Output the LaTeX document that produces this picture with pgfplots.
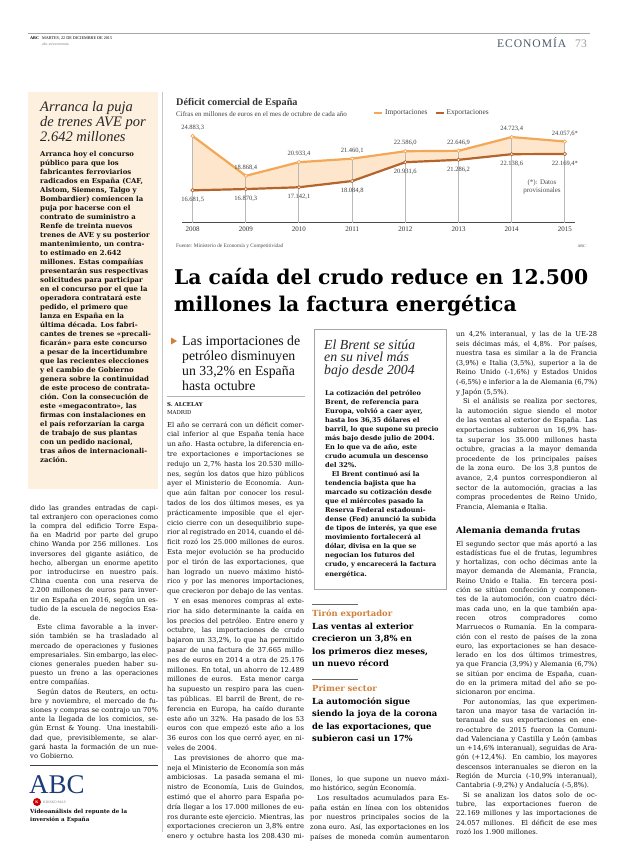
\documentclass[border=0pt]{standalone}
\usepackage{fontspec}
\setmainfont{Liberation Serif}
\newfontfamily\dv{DejaVu Serif}
\newfontfamily\lib{Liberation Serif}
\newfontfamily\econ[LetterSpace=8]{Liberation Serif}
\usepackage{pgfplots}
\usepackage{pgfplotstable}
\pgfplotsset{compat=1.18}

\definecolor{imp}{HTML}{F3A858}
\definecolor{expc}{HTML}{B5642C}
\definecolor{peach}{HTML}{FDE6CC}
\definecolor{beige}{HTML}{FDF0DE}
\definecolor{econc}{HTML}{4B5A6C}
\definecolor{orng}{HTML}{D0803A}
\definecolor{navy}{HTML}{1C3C78}
\definecolor{txt}{HTML}{121212}

\newlength\colw
\newcommand\J[1]{\hbox to\colw{#1}}
\newcommand\R[1]{\hbox{#1}}
\newcommand\ind{\kern1em}
\hbadness=10000 \hfuzz=20pt

% Deficit comercial, octubre de cada ano (millones de euros)
\pgfplotstableread{
year imp expo implab explab
2008 24883.3 16681.5 24.883,3 16.681,5
2009 18868.4 16870.3 18.868,4 16.870,3
2010 20933.4 17142.1 20.933,4 17.142,1
2011 21460.1 18084.8 21.460,1 18.084,8
2012 22586.0 20931.6 22.586,0 20.931,6
2013 22646.9 21286.2 22.646,9 21.286,2
2014 24723.4 22138.6 24.723,4 22.138,6
2015 24057.6 22169.4 24.057,6* 22.169,4*
}\deficit

\begin{document}
\begin{tikzpicture}[x=1pt,y=1pt]
\fill[white] (0,0) rectangle (620,-846);
\path[use as bounding box] (0,0) rectangle (620,-846);

% header
\draw[gray!70, line width=0.8pt] (28,-33) -- (590,-33);
\node[anchor=base west, inner sep=0, font=\lib\bfseries\fontsize{4.2}{5}\selectfont] at (30,-39.5) {ABC};
\node[anchor=base west, inner sep=0, font=\lib\fontsize{4.2}{5}\selectfont] at (42,-39.5) {MARTES, 22 DE DICIEMBRE DE 2015};
\node[anchor=base west, inner sep=0, font=\lib\fontsize{4}{5}\selectfont, text=gray] at (42,-45) {abc.es/economia};
\node[anchor=base west, inner sep=0, font=\econ\fontsize{11.6}{12}\selectfont, text=econc] at (497,-47.7) {ECONOMÍA};
\node[anchor=base west, inner sep=0, font=\lib\fontsize{11.6}{12}\selectfont, text=gray!75] at (575,-47.7) {73};

% column rule
\draw[gray!45, line width=0.5pt] (162,-92) -- (162,-832);

% sidebar
\fill[beige] (28,-92) rectangle (158,-489);
\node[anchor=base west, inner sep=0, text=black!85, font=\lib\itshape\fontsize{14.5}{15}\selectfont] at (40,-111) {\parbox[t]{118pt}{\R{Arranca la puja}\R{de trenes AVE por}\R{2.642 millones}}};
\node[anchor=base west, inner sep=0, text=txt, font=\dv\bfseries\fontsize{6.9}{9}\selectfont] at (40,-156) {\parbox[t]{118pt}{%
\R{Arranca hoy el concurso}\R{público para que los}\R{fabricantes ferroviarios}\R{radicados en España (CAF,}\R{Alstom, Siemens, Talgo y}\R{Bombardier) comiencen la}\R{puja por hacerse con el}\R{contrato de suministro a}\R{Renfe de treinta nuevos}\R{trenes de AVE y su posterior}\R{mantenimiento, un contra-}\R{to estimado en 2.642}\R{millones. Estas compañías}\R{presentarán sus respectivas}\R{solicitudes para participar}\R{en el concurso por el que la}\R{operadora contratará este}\R{pedido, el primero que}\R{lanza en España en la}\R{última década. Los fabri-}\R{cantes de trenes se «precali-}\R{ficarán» para este concurso}\R{a pesar de la incertidumbre}\R{que las recientes elecciones}\R{y el cambio de Gobierno}\R{genera sobre la continuidad}\R{de este proceso de contrata-}\R{ción. Con la consecución de}\R{este «megacontrato», las}\R{firmas con instalaciones en}\R{el país reforzarían la carga}\R{de trabajo de sus plantas}\R{con un pedido nacional,}\R{tras años de internacionali-}\R{zación.}}};

% column 1, bottom
\node[anchor=base west, inner sep=0, text=txt, font=\dv\fontsize{6.8}{9.2}\selectfont] at (30,-510) {\parbox[t]{128pt}{\setlength\colw{128pt}%
\J{dido las grandes entradas de capi-}\J{tal extranjero con operaciones como}\J{la compra del edificio Torre Espa-}\J{ña en Madrid por parte del grupo}\J{chino Wanda por 256 millones. Los}\J{inversores del gigante asiático, de}\J{hecho, albergan un enorme apetito}\J{por introducirse en nuestro país.}\J{China cuenta con una reserva de}\J{2.200 millones de euros para inver-}\J{tir en España en 2016, según un es-}\J{tudio de la escuela de negocios Esa-}\R{de.}%
\J{\ind Este clima favorable a la inver-}\J{sión también se ha trasladado al}\J{mercado de operaciones y fusiones}\J{empresariales. Sin embargo, las elec-}\J{ciones generales pueden haber su-}\J{puesto un freno a las operaciones}\R{entre compañías.}%
\J{\ind Según datos de Reuters, en octu-}\J{bre y noviembre, el mercado de fu-}\J{siones y compras se contrajo un 70\%}\J{ante la llegada de los comicios, se-}\J{gún Ernst \& Young. Una inestabili-}\J{dad que, previsiblemente, se alar-}\J{gará hasta la formación de un nue-}\R{vo Gobierno.}}};
\draw[black!75, line width=0.8pt] (30,-765) -- (158,-765);
\node[anchor=base west, inner sep=0, text=navy, font=\lib\fontsize{27}{27}\selectfont] at (29,-793) {ABC};
\fill[red!80!black] (37,-802) circle (4);
\node[inner sep=0, text=white, font=\lib\bfseries\fontsize{4}{4}\selectfont] at (37,-802) {K};
\node[anchor=west, inner sep=0, text=gray, font=\lib\fontsize{3.6}{4}\selectfont] at (43,-802) {KIOSKO·MAS};
\node[anchor=base west, inner sep=0, text=txt, font=\dv\bfseries\fontsize{5.6}{8}\selectfont] at (30,-813) {\parbox[t]{128pt}{\R{Videoanálisis del repunte de la}\R{inversión a España}}};

% chart
\node[anchor=base west, inner sep=0, text=black!80, font=\lib\bfseries\fontsize{10.2}{11}\selectfont] at (176,-105) {Déficit comercial de España};
\node[anchor=base west, inner sep=0, text=black!75, font=\lib\fontsize{7}{8}\selectfont] at (176,-116) {Cifras en millones de euros en el mes de octubre de cada año};
\begin{scope}[x=1cm,y=1cm]
\begin{axis}[
  at={(182pt,-222.7pt)}, anchor=south west,
  scale only axis, width=393pt, height=99.7pt,
  xmin=2007.8, xmax=2015.19, ymin=11786, ymax=26850,
  axis x line*=bottom, axis y line=none,
  axis line style={draw=black!70, line width=0.8pt},
  xtick={2008,2009,2010,2011,2012,2013,2014,2015},
  xticklabels={2008,2009,2010,2011,2012,2013,2014,2015},
  xtick style={draw=none},
  xticklabel style={font=\lib\fontsize{7}{8}\selectfont, text=black!80, yshift=-1pt},
  ytick=\empty,
  legend columns=2,
  legend style={at={(rel axis cs:0.486,1.1)}, anchor=west, draw=none, fill=none, inner sep=0pt,
    font=\lib\fontsize{7.4}{8}\selectfont, text=black!75,
    /tikz/every even column/.append style={column sep=5pt}},
  legend image code/.code={\draw[#1, mark=none, line width=2pt] (0pt,0pt) -- (8pt,0pt);},
]
\addplot[fill=peach, draw=none, forget plot] coordinates {
  (2008,24883.3) (2009,18868.4) (2010,20933.4) (2011,21460.1) (2012,22586.0) (2013,22646.9) (2014,24723.4) (2015,24057.6)
  (2015,22169.4) (2014,22138.6) (2013,21286.2) (2012,20931.6) (2011,18084.8) (2010,17142.1) (2009,16870.3) (2008,16681.5)} --cycle;
\addplot[ycomb, draw=gray!55, line width=1pt, mark=none, forget plot] table[x=year, y=imp] {\deficit};
\addplot[color=imp, line width=2.2pt, mark=*, mark size=1.7pt,
  mark options={fill=white, draw=imp, line width=0.7pt},
  nodes near coords, point meta=explicit symbolic,
  every node near coord/.append style={font=\lib\fontsize{6.5}{7}\selectfont, text=black!75, anchor=center, yshift=8pt}]
  table[x=year, y=imp, meta=implab] {\deficit};
\addplot[color=expc, line width=2.2pt, mark=*, mark size=1.7pt,
  mark options={fill=white, draw=expc, line width=0.7pt},
  nodes near coords, point meta=explicit symbolic,
  every node near coord/.append style={font=\lib\fontsize{6.5}{7}\selectfont, text=black!75, anchor=center, yshift=-10pt}]
  table[x=year, y=expo, meta=explab] {\deficit};
\legend{Importaciones, Exportaciones}
\end{axis}
\end{scope}
\node[inner sep=0, text=black!70, font=\lib\fontsize{7}{8}\selectfont, align=center] at (542,-187) {(*): Datos\\provisionales};
\node[anchor=base west, inner sep=0, text=black!70, font=\lib\fontsize{5.3}{6}\selectfont] at (176,-247) {Fuente: Ministerio de Economía y Competitividad};
\node[anchor=base east, inner sep=0, text=black!70, font=\lib\fontsize{4}{5}\selectfont] at (586,-247) {ABC};

% headline
\node[anchor=base west, inner sep=0, text=black, font=\dv\bfseries\fontsize{20.3}{27}\selectfont] at (174,-284.3) {La caída del crudo reduce en 12.500};
\node[anchor=base west, inner sep=0, text=black, font=\dv\bfseries\fontsize{20.3}{27}\selectfont] at (174,-311.7) {millones la factura energética};

% column 2
\fill[orng] (171,-337.5) -- (171,-344.5) -- (177,-341) -- cycle;
\node[anchor=base west, inner sep=0, text=black!92, font=\lib\fontsize{13.8}{15}\selectfont] at (182,-345) {\parbox[t]{125pt}{\R{Las importaciones de}\R{petróleo disminuyen}\R{un 33,2\% en España}\R{hasta octubre}}};
\draw[gray!60, line width=0.5pt] (167,-396) -- (305,-396);
\node[anchor=base west, inner sep=0, text=txt, font=\dv\bfseries\fontsize{5.4}{8}\selectfont] at (167,-406) {\parbox[t]{120pt}{\R{S. ALCELAY}\R{\mdseries MADRID}}};
\node[anchor=base west, inner sep=0, text=txt, font=\dv\fontsize{6.8}{9.8}\selectfont] at (167,-427) {\parbox[t]{137pt}{\setlength\colw{137pt}%
\J{El año se cerrará con un déficit comer-}\J{cial inferior al que España tenía hace}\J{un año. Hasta octubre, la diferencia en-}\J{tre exportaciones e importaciones se}\J{redujo un 2,7\% hasta los 20.530 millo-}\J{nes, según los datos que hizo públicos}\J{ayer el Ministerio de Economía. Aun-}\J{que aún faltan por conocer los resul-}\J{tados de los dos últimos meses, es ya}\J{prácticamente imposible que el ejer-}\J{cicio cierre con un desequilibrio supe-}\J{rior al registrado en 2014, cuando el dé-}\J{ficit rozó los 25.000 millones de euros.}\J{Esta mejor evolución se ha producido}\J{por el tirón de las exportaciones, que}\J{han logrado un nuevo máximo histó-}\J{rico y por las menores importaciones,}\R{que crecieron por debajo de las ventas.}%
\J{\ind Y en esas menores compras al exte-}\J{rior ha sido determinante la caída en}\J{los precios del petróleo. Entre enero y}\J{octubre, las importaciones de crudo}\J{bajaron un 33,2\%, lo que ha permitido}\J{pasar de una factura de 37.665 millo-}\J{nes de euros en 2014 a otra de 25.176}\J{millones. En total, un ahorro de 12.489}\J{millones de euros. Esta menor carga}\J{ha supuesto un respiro para las cuen-}\J{tas públicas. El barril de Brent, de re-}\J{ferencia en Europa, ha caído durante}\J{este año un 32\%. Ha pasado de los 53}\J{euros con que empezó este año a los}\J{36 euros con los que cerró ayer, en ni-}\R{veles de 2004.}%
\J{\ind Las previsiones de ahorro que ma-}\J{neja el Ministerio de Economía son más}\J{ambiciosas. La pasada semana el mi-}\J{nistro de Economía, Luis de Guindos,}\J{estimó que el ahorro para España po-}\J{dría llegar a los 17.000 millones de eu-}\J{ros durante este ejercicio. Mientras, las}\J{exportaciones crecieron un 3,8\% entre}\J{enero y octubre hasta los 208.430 mi-}}};

% column 3: Brent box
\draw[gray!70, line width=0.7pt] (314,-329) rectangle (446,-589);
\node[anchor=base west, inner sep=0, text=black!85, font=\lib\itshape\fontsize{13.8}{12.5}\selectfont] at (324,-349) {\parbox[t]{120pt}{\R{El Brent se sitúa}\R{en su nivel más}\R{bajo desde 2004}}};
\node[anchor=base west, inner sep=0, text=txt, font=\dv\bfseries\fontsize{6.6}{9.05}\selectfont] at (325,-395) {\parbox[t]{120pt}{%
\R{La cotización del petróleo}\R{Brent, de referencia para}\R{Europa, volvió a caer ayer,}\R{hasta los 36,35 dólares el}\R{barril, lo que supone su precio}\R{más bajo desde julio de 2004.}\R{En lo que va de año, este}\R{crudo acumula un descenso}\R{del 32\%.}\R{\ind El Brent continuó así la}\R{tendencia bajista que ha}\R{marcado su cotización desde}\R{que el miércoles pasado la}\R{Reserva Federal estadouni-}\R{dense (Fed) anunció la subida}\R{de tipos de interés, ya que ese}\R{movimiento fortalecerá al}\R{dólar, divisa en la que se}\R{negocian los futuros del}\R{crudo, y encarecerá la factura}\R{energética.}}};

% column 3: despieces
\draw[black!60, line width=0.7pt] (312,-604) -- (358,-604);
\node[anchor=base west, inner sep=0, text=orng, font=\dv\bfseries\fontsize{8.4}{12}\selectfont] at (312,-616) {Tirón exportador};
\node[anchor=base west, inner sep=0, text=black, font=\dv\bfseries\fontsize{8.4}{12.5}\selectfont] at (312,-629) {\parbox[t]{140pt}{\R{Las ventas al exterior}\R{crecieron un 3,8\% en}\R{los primeros diez meses,}\R{un nuevo récord}}};
\draw[black!60, line width=0.7pt] (312,-679) -- (358,-679);
\node[anchor=base west, inner sep=0, text=orng, font=\dv\bfseries\fontsize{8.4}{12}\selectfont] at (312,-691) {Primer sector};
\node[anchor=base west, inner sep=0, text=black, font=\dv\bfseries\fontsize{8.4}{12.5}\selectfont] at (312,-704) {\parbox[t]{140pt}{\R{La automoción sigue}\R{siendo la joya de la corona}\R{de las exportaciones, que}\R{subieron casi un 17\%}}};
\node[anchor=base west, inner sep=0, text=txt, font=\dv\fontsize{6.8}{9.7}\selectfont] at (310,-781) {\parbox[t]{139pt}{\setlength\colw{139pt}%
\J{llones, lo que supone un nuevo máxi-}\R{mo histórico, según Economía.}%
\J{\ind Los resultados acumulados para Es-}\J{paña están en línea con los obtenidos}\J{por nuestros principales socios de la}\J{zona euro. Así, las exportaciones en los}\J{países de moneda común aumentaron}}};

% column 4
\node[anchor=base west, inner sep=0, text=txt, font=\dv\fontsize{6.8}{9.6}\selectfont] at (456,-336.5) {\parbox[t]{141pt}{\setlength\colw{141pt}%
\J{un 4,2\% interanual, y las de la UE-28}\J{seis décimas más, el 4,8\%. Por países,}\J{nuestra tasa es similar a la de Francia}\J{(3,9\%) e Italia (3,5\%), superior a la de}\J{Reino Unido (-1,6\%) y Estados Unidos}\J{(-6,5\%) e inferior a la de Alemania (6,7\%)}\R{y Japón (5,5\%).}%
\J{\ind Si el análisis se realiza por sectores,}\J{la automoción sigue siendo el motor}\J{de las ventas al exterior de España. Las}\J{exportaciones subieron un 16,9\% has-}\J{ta superar los 35.000 millones hasta}\J{octubre, gracias a la mayor demanda}\J{procedente de los principales países}\J{de la zona euro. De los 3,8 puntos de}\J{avance, 2,4 puntos correspondieron al}\J{sector de la automoción, gracias a las}\J{compras procedentes de Reino Unido,}\R{Francia, Alemania e Italia.}}};
\node[anchor=base west, inner sep=0, text=black, font=\dv\bfseries\fontsize{8.6}{10}\selectfont] at (456,-533) {Alemania demanda frutas};
\node[anchor=base west, inner sep=0, text=txt, font=\dv\fontsize{6.8}{9.3}\selectfont] at (456,-546) {\parbox[t]{141pt}{\setlength\colw{141pt}%
\J{El segundo sector que más aportó a las}\J{estadísticas fue el de frutas, legumbres}\J{y hortalizas, con ocho décimas ante la}\J{mayor demanda de Alemania, Francia,}\J{Reino Unido e Italia. En tercera posi-}\J{ción se sitúan confección y componen-}\J{tes de la automoción, con cuatro déci-}\J{mas cada uno, en la que también apa-}\J{recen otros compradores como}\J{Marruecos o Rumanía. En la compara-}\J{ción con el resto de países de la zona}\J{euro, las exportaciones se han desace-}\J{lerado en los dos últimos trimestres,}\J{ya que Francia (3,9\%) y Alemania (6,7\%)}\J{se sitúan por encima de España, cuan-}\J{do en la primera mitad del año se po-}\R{sicionaron por encima.}%
\J{\ind Por autonomías, las que experimen-}\J{taron una mayor tasa de variación in-}\J{teranual de sus exportaciones en ene-}\J{ro-octubre de 2015 fueron la Comuni-}\J{dad Valenciana y Castilla y León (ambas}\J{un +14,6\% interanual), seguidas de Ara-}\J{gón (+12,4\%). En cambio, los mayores}\J{descensos interanuales se dieron en la}\J{Región de Murcia (-10,9\% interanual),}\R{Cantabria (-9,2\%) y Andalucía (-5,8\%).}%
\J{\ind Si se analizan los datos solo de oc-}\J{tubre, las exportaciones fueron de}\J{22.169 millones y las importaciones de}\J{24.057 millones. El déficit de ese mes}\R{rozó los 1.900 millones.}}};
\end{tikzpicture}
\end{document}
